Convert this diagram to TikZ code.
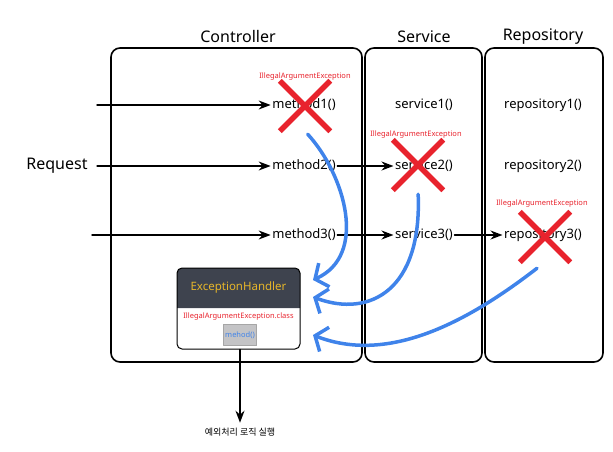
\documentclass[tikz,border=0pt]{standalone}
\usepackage{fontspec}
\setmainfont{Noto Sans}
\newfontfamily\kofont{Noto Sans CJK KR}
\usetikzlibrary{arrows.meta,shapes.misc,positioning}
\definecolor{errred}{HTML}{E8232D}
\definecolor{catchblue}{HTML}{3F83EA}
\definecolor{headdark}{HTML}{3E434E}
\definecolor{headgold}{HTML}{E5B52A}
\definecolor{btngray}{HTML}{C4C4C6}
\tikzset{
  every picture/.style={
    line join=round,
    line cap=round,
    >=Stealth,                      % black flow arrows
  },
  layer/.style={draw, line width=1.6pt, rounded corners=9pt},
  title/.style={font=\fontsize{16}{18}\selectfont},
  call/.style={font=\fontsize{13}{15}\selectfont, inner sep=1.5pt},
  err/.style={text=errred, font=\fontsize{7.5}{9}\selectfont},
  xmark/.style={cross out, draw=errred, line width=5.5pt, line cap=butt,
    minimum size=45pt, inner sep=0pt},
  flow/.style={line width=1.5pt, -{Stealth[length=12pt,width=9pt]}},
  catch/.style={catchblue, line width=3.5pt,
    -{Straight Barb[length=10pt,width=26pt]}},
}
\begin{document}
\begin{tikzpicture}[x=1pt,y=-1pt]
\useasboundingbox (0,0) rectangle (613,452);
% Layers
\node[layer, minimum width=251pt, minimum height=314pt] (ctrl) at (236.5,205) {};
\node[layer, minimum width=117pt, minimum height=314pt] (svc) at (423.5,205) {};
\node[layer, minimum width=118pt, minimum height=314pt] (repo) at (544,205) {};
\node[title] (ctrlt) at (238,37) {Controller};
\node[title] (svct) at (424,37) {Service};
\node[title] (repot) at (543,37) {Repository};

% Calls in each layer
\node[title] (req) at (57,166) {Request};
\node[call] (m1) at (304,105) {method1()};
\node[call] (m2) at (304,166) {method2()};
\node[call] (m3) at (304,235) {method3()};
\node[call] (s1) at (424,105) {service1()};
\node[call] (s2) at (424,166) {service2()};
\node[call] (s3) at (424,235) {service3()};
\node[call] (r1) at (543,105) {repository1()};
\node[call] (r2) at (543,166) {repository2()};
\node[call] (r3) at (543,235) {repository3()};

% Flow
\coordinate (in1) at (97,105);
\coordinate (in3) at (92,235);
\draw[flow] (in1) -- (m1.west);
\draw[flow] (req.east) ++(6,0) -- (m2.west);
\draw[flow] (in3) -- (m3.west);
\draw[flow] (m2.east) -- (s2.west);
\draw[flow] (m3.east) -- (s3.west);
\draw[flow] (s3.east) -- (r3.west);

% Thrown exceptions
\node[xmark] (x1) at (305,106) {};
\node[xmark] (x2) at (418,165) {};
\node[xmark] (x3) at (545,237) {};
\node[err] (e1) at (305,77) {IllegalArgumentException};
\node[err] (e2) at (416,135) {IllegalArgumentException};
\node[err] (e3) at (542,204) {IllegalArgumentException};

% ExceptionHandler
\fill[headdark] (177,308) [rounded corners=5pt] -- (177,268) -- (300,268)
  [sharp corners] -- (300,308) -- cycle;
\node[draw, line width=1pt, rounded corners=5pt, minimum width=123pt,
  minimum height=81pt] (hdl) at (238.5,308.5) {};
\node[text=headgold, font=\fontsize{11.5}{13}\selectfont] (hdlt) at (238.5,288) {ExceptionHandler};
\node[err] (hdlc) at (238.5,317) {IllegalArgumentException.class};
\node[draw=gray!70, fill=btngray, text=catchblue, font=\fontsize{7.5}{9}\selectfont,
  minimum width=33pt, minimum height=21pt, inner sep=1pt] (mth) at (240,335) {mehod()};
\node[font=\kofont\fontsize{9}{11}\selectfont, inner sep=5pt] (res) at (240,432) {예외처리 로직 실행};
\draw[flow] (mth.south |- hdl.south) -- (res.north);

% Caught by the handler
\coordinate (c1) at (313,280);
\coordinate (c2) at (313,297);
\coordinate (c3) at (313,335);
\draw[catch, shorten <=4pt] (x1.south) .. controls (345,175) and (368,255) .. (c1);
\draw[catch, shorten <=4pt] (x2.south) .. controls (422,290) and (370,318) .. (c2);
\draw[catch] (x3.south) ++(-8,6) .. controls (470,320) and (390,365) .. (c3);
\end{tikzpicture}
\end{document}
